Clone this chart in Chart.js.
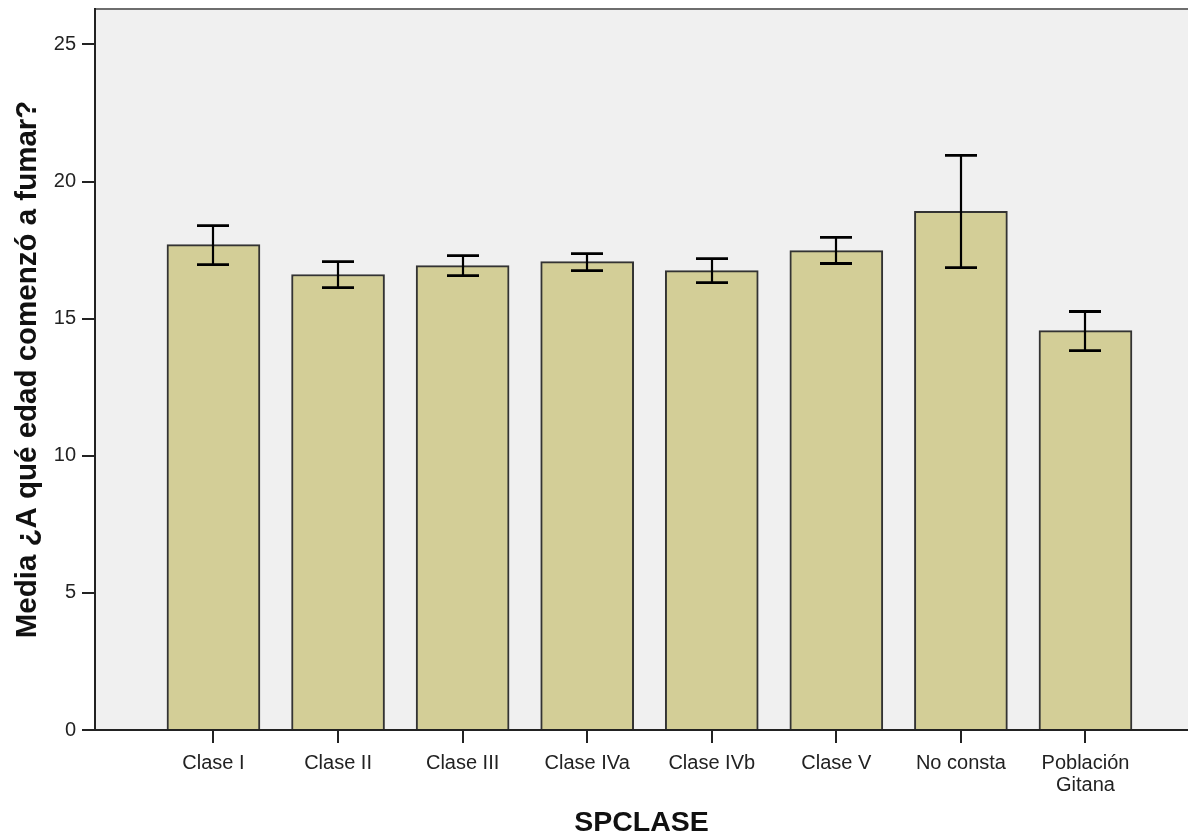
<!DOCTYPE html>
<html>
<head>
<meta charset="utf-8">
<script src="https://cdn.jsdelivr.net/npm/chart.js@4/dist/chart.umd.min.js"></script>
<style>
  html, body { margin: 0; padding: 0; background: #ffffff; }
  #wrap { width: 1188px; height: 837px; }
</style>
</head>
<body>
<div id="wrap"><canvas id="c" width="1188" height="837"></canvas></div>
<script>
const categories = ['Clase I', 'Clase II', 'Clase III', 'Clase IVa', 'Clase IVb', 'Clase V', 'No consta', 'Población Gitana'];
const xTickLabels = [['Clase I'], ['Clase II'], ['Clase III'], ['Clase IVa'], ['Clase IVb'], ['Clase V'], ['No consta'], ['Población', 'Gitana']];
const means = [17.70, 16.61, 16.93, 17.08, 16.75, 17.48, 18.91, 14.56];
const errLow = [16.97, 16.13, 16.57, 16.75, 16.31, 17.01, 16.86, 13.83];
const errHigh = [18.39, 17.08, 17.30, 17.37, 17.19, 17.96, 20.95, 15.26];
const yTicks = [0, 5, 10, 15, 20, 25];
const yTitle = 'Media ¿A qué edad comenzó a fumar?';
const xTitle = 'SPCLASE';

const FONT = "'Liberation Sans', Arial, sans-serif";

const plotBg = {
  id: 'plotBg',
  beforeDraw(chart) {
    const { ctx, chartArea: a } = chart;
    ctx.save();
    ctx.fillStyle = '#f0f0f0';
    ctx.fillRect(a.left, a.top, a.right - a.left, a.bottom - a.top);
    ctx.strokeStyle = '#6e6e6e';
    ctx.lineWidth = 2;
    ctx.beginPath();
    ctx.moveTo(a.left, a.top);
    ctx.lineTo(a.right, a.top);
    ctx.stroke();
    ctx.restore();
  }
};

const errorBars = {
  id: 'errorBars',
  afterDatasetsDraw(chart) {
    const { ctx, scales: { x, y } } = chart;
    ctx.save();
    ctx.strokeStyle = '#000000';
    const cap = 16;
    for (let i = 0; i < categories.length; i++) {
      const px = Math.round(x.getPixelForValue(i));
      const yh = y.getPixelForValue(errHigh[i]);
      const yl = y.getPixelForValue(errLow[i]);
      ctx.lineWidth = 2.2;
      ctx.beginPath();
      ctx.moveTo(px, yh); ctx.lineTo(px, yl);
      ctx.stroke();
      ctx.lineWidth = 2.8;
      ctx.beginPath();
      ctx.moveTo(px - cap, yh); ctx.lineTo(px + cap, yh);
      ctx.moveTo(px - cap, yl); ctx.lineTo(px + cap, yl);
      ctx.stroke();
    }
    ctx.restore();
  }
};

new Chart(document.getElementById('c'), {
  type: 'bar',
  data: {
    datasets: [{
      label: yTitle,
      data: means.map((v, i) => ({ x: i, y: v })),
      backgroundColor: '#d3ce97',
      borderColor: '#333333',
      borderWidth: 2,
      barThickness: 93
    }]
  },
  options: {
    responsive: false,
    devicePixelRatio: 1,
    animation: false,
    layout: { padding: { top: 9, right: 0, left: 0, bottom: 0 } },
    plugins: {
      legend: { display: false },
      tooltip: { enabled: false }
    },
    scales: {
      x: {
        type: 'linear',
        offset: false,
        min: -0.951,
        max: 7.823,
        afterBuildTicks(scale) { scale.ticks = categories.map((c, i) => ({ value: i })); },
        afterFit(scale) { scale.height = 107; scale.paddingLeft = 0; scale.paddingRight = 0; },
        ticks: {
          autoSkip: false,
          maxRotation: 0,
          padding: 9,
          color: '#222222',
          font: { family: FONT, size: 20, lineHeight: 1.1 },
          callback: (v) => xTickLabels[v]
        },
        grid: { offset: false, drawOnChartArea: false, tickLength: 13, color: '#222222', lineWidth: 2 },
        border: { display: true, color: '#222222', width: 2 },
        title: {
          display: true,
          text: xTitle,
          color: '#111111',
          font: { family: FONT, size: 28.5, weight: 'bold', lineHeight: 1 },
          padding: { top: 0, bottom: 0 }
        }
      },
      y: {
        type: 'linear',
        min: 0,
        max: 26.29,
        afterBuildTicks(scale) { scale.ticks = yTicks.map(v => ({ value: v })); },
        afterFit(scale) { scale.width = 95; scale.paddingTop = 0; scale.paddingBottom = 0; },
        ticks: {
          padding: 6,
          color: '#222222',
          font: { family: FONT, size: 20 }
        },
        grid: { drawOnChartArea: false, tickLength: 13, color: '#222222', lineWidth: 2 },
        border: { display: true, color: '#222222', width: 2 },
        title: {
          display: true,
          text: yTitle,
          color: '#111111',
          font: { family: FONT, size: 29.5, weight: 'bold', lineHeight: 1 },
          padding: { top: 13, bottom: 0 }
        }
      }
    }
  },
  plugins: [plotBg, errorBars]
});
</script>
</body>
</html>
